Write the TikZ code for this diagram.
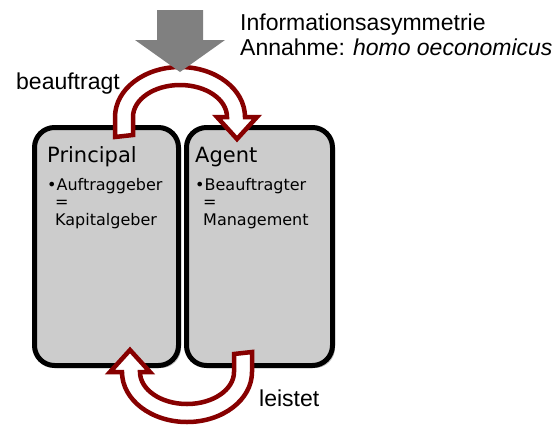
\documentclass[tikz,border=0pt]{standalone}
\usepackage{fontspec}
\setmainfont{Liberation Sans}
\newfontfamily\boxfont{DejaVu Sans}
\usetikzlibrary{shadows}
\definecolor{boxgray}{RGB}{204,204,204}
\definecolor{arrowgray}{RGB}{128,128,128}
\definecolor{arcred}{RGB}{135,0,0}
\tikzset{
  party/.style={draw=black, line width=5pt, fill=boxgray, rounded corners=20pt,
    inner sep=0pt,
    drop shadow={shadow xshift=2.5pt, shadow yshift=-2.5pt, opacity=0.25, fill=black}},
  title/.style={font=\boxfont\fontsize{21}{25}\selectfont, anchor=base west, inner sep=0pt},
  item/.style={font=\boxfont\fontsize{16}{19}\selectfont, anchor=base west, inner sep=0pt},
  label/.style={font=\fontsize{23}{27}\selectfont, anchor=base west, inner sep=0pt},
  turnarrow/.style={draw=arcred, fill=white, line width=4.5pt, line join=miter},
}
\newcommand{\turnpath}{(115,137) -- (115,117)
  arc[start angle=180, end angle=360, x radius=65, y radius=50]
  -- (257,117) -- (237,139) -- (217,117) -- (227,117)
  arc[start angle=0, end angle=-180, x radius=47, y radius=32]
  -- (133,135) -- cycle}
\begin{document}
\begin{tikzpicture}[x=1pt, y=-1pt]
\useasboundingbox (0,0) rectangle (560,432);

% the two parties
\node[party, minimum width=144pt, minimum height=238pt] (principal) at (106.5,246.5) {};
\node[party, minimum width=146pt, minimum height=238pt] (agent) at (259.5,246.5) {};

\node[title] (ptitle) at (47,162) {Principal};
\node[item] (pitem) at (47,190) {•Auftraggeber};
\node[item] (peq) at (55,207) {=};
\node[item] (pval) at (55,225) {Kapitalgeber};

\node[title] (atitle) at (195,162) {Agent};
\node[item] (aitem) at (195,190) {•Beauftragter};
\node[item] (aeq) at (203,207) {=};
\node[item] (aval) at (203,225) {Management};

% curved arrows: order above, performance below
\draw[turnarrow] \turnpath;
\draw[turnarrow, rotate around={180:(183.5,244.5)}] \turnpath;

% information asymmetry pressing down from above
\fill[arrowgray] (157,10) -- (203,10) -- (203,40) -- (225,40) -- (180,72)
  -- (135,40) -- (157,40) -- cycle;

\node[label] (info) at (240,30) {Informationsasymmetrie};
\node[label] (annahme) at (240,55) {Annahme:\hspace{8pt}\textit{homo oeconomicus}};
\node[label] (beauftragt) at (16,89) {beauftragt};
\node[label] (leistet) at (259,406) {leistet};
\end{tikzpicture}
\end{document}
